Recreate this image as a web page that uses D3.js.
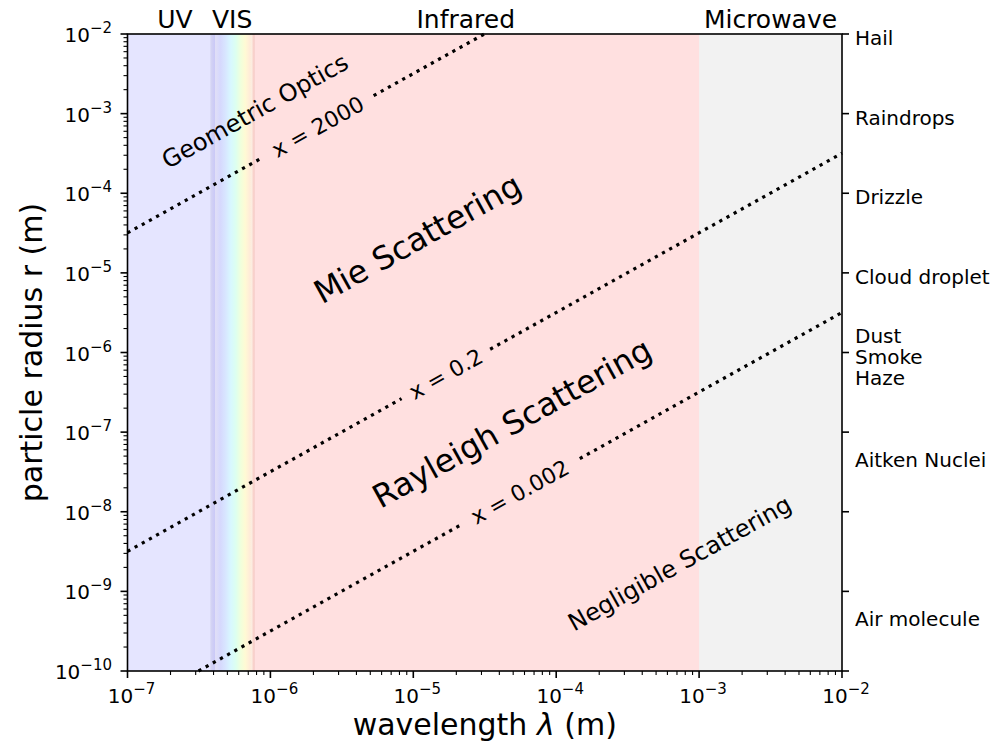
<!DOCTYPE html>
<html>
<head>
<meta charset="utf-8">
<script src="https://cdn.jsdelivr.net/npm/d3@7"></script>
<style>
  body { margin: 0; background: #fff; }
  text { font-family: "DejaVu Sans", sans-serif; fill: #000; }
</style>
</head>
<body>
<script>
const canvasWidth = 1006,
  canvasHeight = 751;

// spectral regions (wavelength in m)
const bandNames = ["UV", "VIS", "Infrared", "Microwave"];
const bandStart = [1e-7, 3.8e-7, 7.5e-7, 1e-3];
const bandEnd = [4.1e-7, 7.8e-7, 1e-3, 1e-2];
const bandLabelAt = [2.15e-7, 5.4e-7, 2.33e-5, 3.16e-3];

// size parameter lines x = 2*pi*r/lambda
const sizeParams = [2000, 0.2, 0.002];
const sizeLabels = ["x = 2000", "x = 0.2", "x = 0.002"];
const sizeLabelAt = [2.15e-6, 1.69e-5, 5.56e-5];
const sizeGap = [0.39, 0.31, 0.42]; // half gap in decades of lambda

// regime labels
const regimeNames = ["Geometric Optics", "Mie Scattering", "Rayleigh Scattering", "Negligible Scattering"];
const regimeLambda = [7.8e-7, 1.07e-5, 4.9e-5, 7.3e-4];
const regimeRadius = [1.08e-3, 2.7e-5, 1.3e-7, 2.26e-9];
const regimeSize = [24, 32, 32, 24];

// particle types on right axis
const particleNames = ["Hail", "Raindrops", "Drizzle", "Cloud droplet", "Dust\nSmoke\nHaze", "Aitken Nuclei", "Air molecule"];
const particleRadius = [1e-2, 1e-3, 1e-4, 1e-5, 1e-6, 5e-8, 5e-10];

const xTicks = [1e-7, 1e-6, 1e-5, 1e-4, 1e-3, 1e-2];
const yTicks = [1e-10, 1e-9, 1e-8, 1e-7, 1e-6, 1e-5, 1e-4, 1e-3, 1e-2];

const plotLeft = 127.5, plotRight = 842, plotTop = 34, plotBottom = 671;

const x = d3.scaleLog().domain([1e-7, 1e-2]).range([plotLeft, plotRight]);
const y = d3.scaleLog().domain([1e-10, 1e-2]).range([plotBottom, plotTop]);

const svg = d3
  .select("body")
  .append("svg")
  .attr("width", canvasWidth)
  .attr("height", canvasHeight);

// rainbow for the visible band
const grad = svg.append("defs").append("linearGradient").attr("id", "vis");
[["0", "#eeeef2"], ["0.1", "#e2e0f6"], ["0.22", "#d6d8fd"], ["0.34", "#d8e6ff"], ["0.46", "#d8f8ff"], ["0.57", "#dcfff0"],
 ["0.68", "#f0ffdc"], ["0.78", "#fffad4"], ["0.88", "#ffecd8"], ["1", "#f6efee"]]
  .forEach(s => grad.append("stop").attr("offset", s[0]).attr("stop-color", s[1]));

const bandFill = ["rgba(0,0,255,0.1)", "url(#vis)", "rgba(255,0,0,0.12)", "rgba(128,128,128,0.1)"];
const drawOrder = [1, 0, 2, 3];

svg
  .selectAll("rect.band")
  .data(drawOrder)
  .enter()
  .append("rect")
  .attr("class", "band")
  .attr("x", i => x(bandStart[i]))
  .attr("width", i => x(bandEnd[i]) - x(bandStart[i]))
  .attr("y", plotTop)
  .attr("height", plotBottom - plotTop)
  .attr("fill", i => bandFill[i]);

svg
  .selectAll("text.band")
  .data(bandNames)
  .enter()
  .append("text")
  .attr("class", "band")
  .attr("x", (d, i) => x(bandLabelAt[i]))
  .attr("y", 28)
  .attr("text-anchor", "middle")
  .attr("font-size", 25)
  .text(d => d);

// slope of the lines in pixel space
const angle = Math.atan2(y(1e-3) - y(1e-4), x(1e-3) - x(1e-4)) * 180 / Math.PI;

function radius(p, lam) {
  return p * lam / (2 * Math.PI);
}

sizeParams.forEach((p, i) => {
  const lamLo = Math.max(1e-7, 2 * Math.PI * 1e-10 / p);
  const lamHi = Math.min(1e-2, 2 * Math.PI * 1e-2 / p);
  const c = Math.log10(sizeLabelAt[i]);
  const segs = [
    [lamLo, Math.pow(10, c - sizeGap[i])],
    [Math.pow(10, c + sizeGap[i]), lamHi]
  ];
  segs.forEach(s => {
    svg
      .append("line")
      .attr("x1", x(s[0]))
      .attr("y1", y(radius(p, s[0])))
      .attr("x2", x(s[1]))
      .attr("y2", y(radius(p, s[1])))
      .attr("stroke", "#000")
      .attr("stroke-width", 3.2)
      .attr("stroke-dasharray", "3.2,5");
  });
  const lx = x(sizeLabelAt[i]), ly = y(radius(p, sizeLabelAt[i]));
  svg
    .append("text")
    .attr("transform", `translate(${lx},${ly}) rotate(${angle})`)
    .attr("text-anchor", "middle")
    .attr("dy", "0.35em")
    .attr("font-size", 22)
    .text(sizeLabels[i]);
});

regimeNames.forEach((name, i) => {
  svg
    .append("text")
    .attr("transform", `translate(${x(regimeLambda[i])},${y(regimeRadius[i])}) rotate(${angle})`)
    .attr("text-anchor", "middle")
    .attr("dy", "0.35em")
    .attr("font-size", regimeSize[i])
    .text(name);
});

// minor ticks for log axes
function minors(lo, hi) {
  const out = [];
  for (let e = lo; e < hi; e++) {
    for (let m = 2; m < 10; m++) out.push(m * Math.pow(10, e));
  }
  return out;
}

const axes = svg.append("g").attr("stroke", "#000");

// bottom axis
minors(-7, -2).forEach(v => {
  axes.append("line").attr("x1", x(v)).attr("x2", x(v)).attr("y1", plotBottom).attr("y2", plotBottom + 4).attr("stroke-width", 1.1);
});
xTicks.forEach(v => {
  axes.append("line").attr("x1", x(v)).attr("x2", x(v)).attr("y1", plotBottom).attr("y2", plotBottom + 7).attr("stroke-width", 1.6);
});

// left axis
minors(-10, -2).forEach(v => {
  axes.append("line").attr("y1", y(v)).attr("y2", y(v)).attr("x1", plotLeft).attr("x2", plotLeft - 4).attr("stroke-width", 1.1);
});
yTicks.forEach(v => {
  axes.append("line").attr("y1", y(v)).attr("y2", y(v)).attr("x1", plotLeft).attr("x2", plotLeft - 7).attr("stroke-width", 1.6);
  axes.append("line").attr("y1", y(v)).attr("y2", y(v)).attr("x1", plotRight).attr("x2", plotRight + 7).attr("stroke-width", 1.6);
});

// frame
svg
  .append("rect")
  .attr("x", plotLeft)
  .attr("y", plotTop)
  .attr("width", plotRight - plotLeft)
  .attr("height", plotBottom - plotTop)
  .attr("fill", "none")
  .attr("stroke", "#000")
  .attr("stroke-width", 1.6);

function powLabel(sel, v) {
  const e = Math.round(Math.log10(v));
  sel.append("tspan").text("10");
  sel.append("tspan").attr("font-size", 15).attr("dy", -9).text("\u2212" + Math.abs(e));
}

xTicks.forEach(v => {
  const t = svg
    .append("text")
    .attr("x", x(v) + 4)
    .attr("y", 703)
    .attr("text-anchor", "middle")
    .attr("font-size", 20);
  powLabel(t, v);
});

yTicks.forEach(v => {
  const t = svg
    .append("text")
    .attr("x", 112)
    .attr("y", y(v) + 8)
    .attr("text-anchor", "end")
    .attr("font-size", 20);
  powLabel(t, v);
});

// particle names on the right
particleNames.forEach((name, i) => {
  const lines = name.split("\n");
  const t = svg
    .append("text")
    .attr("x", 855)
    .attr("y", y(particleRadius[i]) + 11 - (lines.length - 1) * 10.5)
    .attr("font-size", 20);
  lines.forEach((l, j) => {
    t.append("tspan").attr("x", 855).attr("dy", j === 0 ? 0 : 21).text(l);
  });
});

// axis titles
const xt = svg
  .append("text")
  .attr("x", (plotLeft + plotRight) / 2)
  .attr("y", 735)
  .attr("text-anchor", "middle")
  .attr("font-size", 30);
xt.append("tspan").text("wavelength ");
xt.append("tspan").attr("font-style", "italic").text("\u03bb");
xt.append("tspan").text(" (m)");

svg
  .append("text")
  .attr("transform", `translate(42,${(plotTop + plotBottom) / 2}) rotate(-90)`)
  .attr("text-anchor", "middle")
  .attr("font-size", 30)
  .text("particle radius r (m)");
</script>
</body>
</html>
